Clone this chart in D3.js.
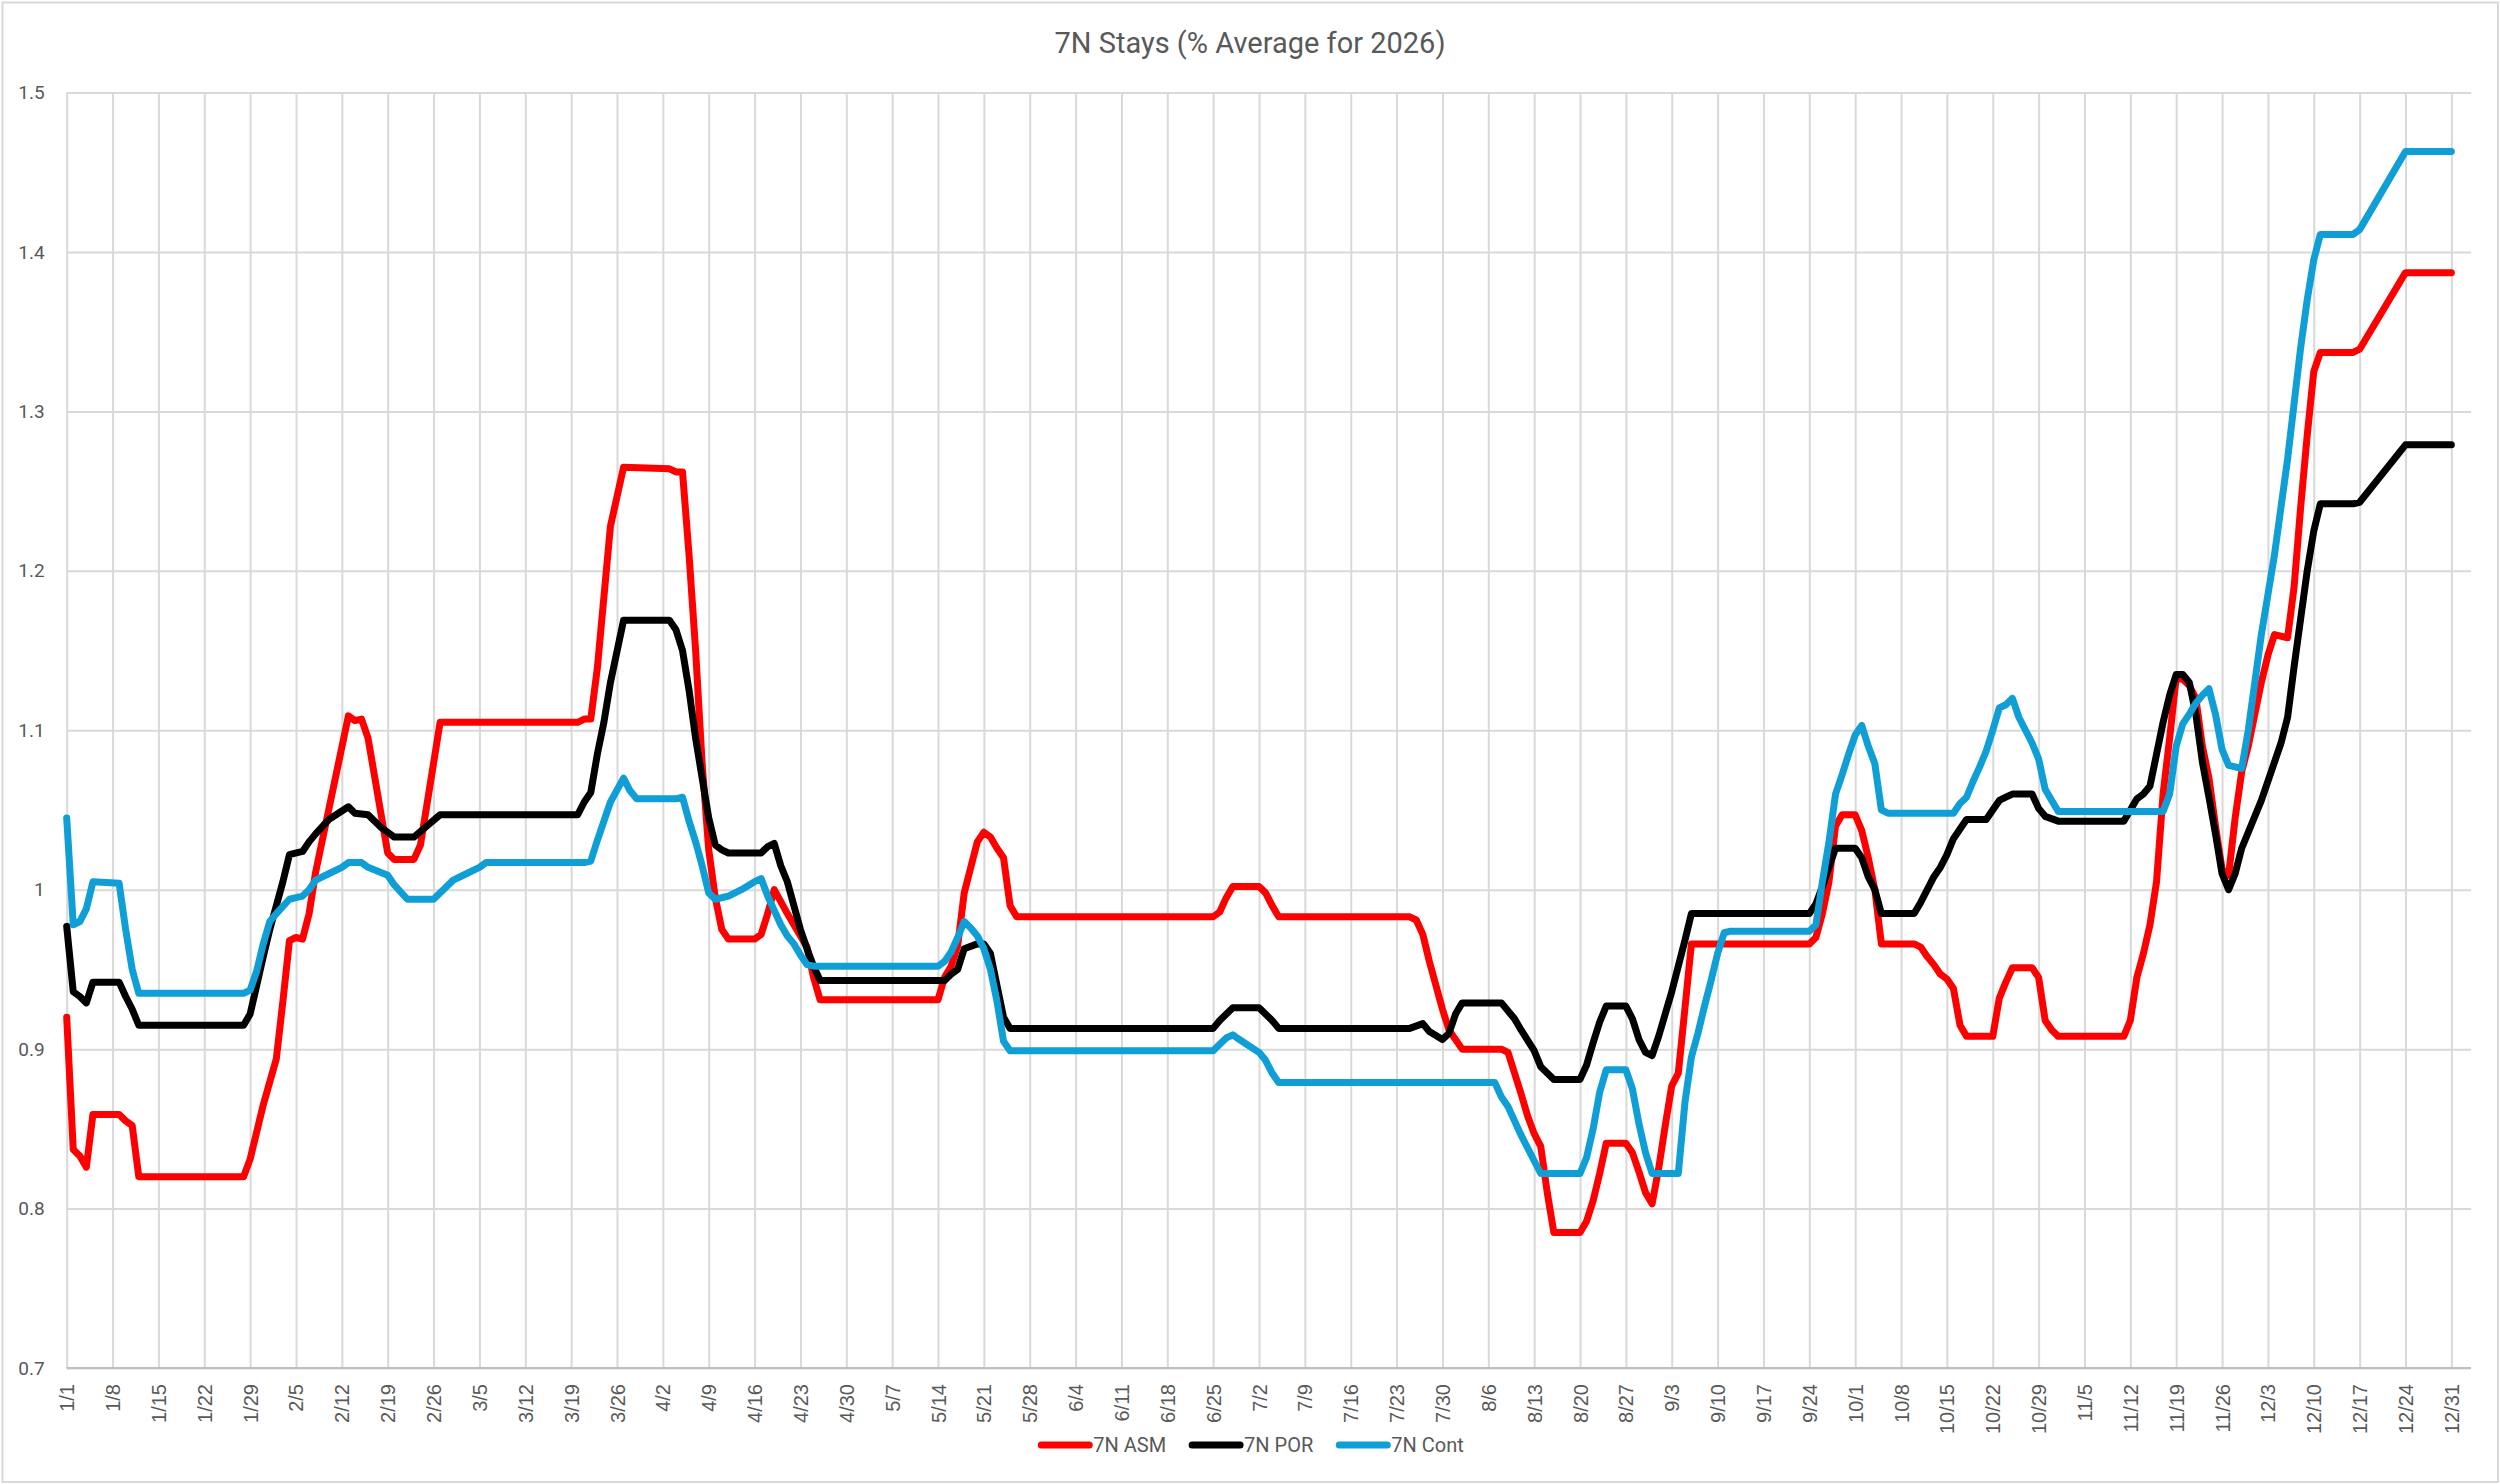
<!DOCTYPE html>
<html>
<head>
<meta charset="utf-8">
<script src="https://cdn.jsdelivr.net/npm/d3@7"></script>
<style>
  body { margin: 0; background: #fff; }
  svg { display: block; }
</style>
</head>
<body>
<svg id="chart"></svg>
<script>
let width = 2500
let height = 1484

let title = "7N Stays (% Average for 2026)"

// weekly category labels on the x axis
let xLabels = ["1/1","1/8","1/15","1/22","1/29","2/5","2/12","2/19","2/26","3/5","3/12","3/19","3/26",
  "4/2","4/9","4/16","4/23","4/30","5/7","5/14","5/21","5/28","6/4","6/11","6/18","6/25",
  "7/2","7/9","7/16","7/23","7/30","8/6","8/13","8/20","8/27","9/3","9/10","9/17","9/24",
  "10/1","10/8","10/15","10/22","10/29","11/5","11/12","11/19","11/26","12/3","12/10","12/17","12/24","12/31"]
let yTicks = [0.7, 0.8, 0.9, 1, 1.1, 1.2, 1.3, 1.4, 1.5]

let seriesNames = ["7N ASM", "7N POR", "7N Cont"]
let seriesColors = ["#ff0000", "#000000", "#0f9ed5"]

// day of year (0 = 1/1) and value
let asmDay = [0,1,2,3,4,8,9,10,11,27,28,30,32,33,34,35,36,37,38,43,44,45,46,49,50,53,54,57,78,79,80,81,83,85,92,93,94,
  95,96,97,98,99,100,101,105,106,107,108,110,111,113,114,115,133,134,135,136,137,139,140,141,142,143,144,145,
  175,176,177,178,182,183,184,185,205,206,207,208,209,210,211,213,219,220,221,222,223,224,225,226,227,231,
  232,233,234,235,238,239,240,241,242,243,244,245,246,247,248,266,267,268,269,270,271,273,274,275,276,277,
  282,283,284,285,286,287,288,289,290,294,295,296,297,300,301,302,303,304,314,315,316,317,318,319,320,321,
  322,323,324,325,326,327,328,329,330,331,332,333,334,335,336,337,339,340,341,342,343,344,349,350,357,364]
let asmVal = [0.920,0.837,0.833,0.826,0.859,0.859,0.855,0.852,0.820,0.820,0.831,0.865,0.894,0.930,0.968,0.970,0.969,0.985,1.011,1.109,1.106,1.107,1.095,1.023,1.019,1.019,1.028,1.105,1.105,1.107,1.107,1.139,1.228,1.265,1.264,1.262,1.262,
  1.210,1.150,1.079,1.025,0.995,0.975,0.969,0.969,0.972,0.985,1.000,0.985,0.978,0.964,0.945,0.931,0.931,0.945,0.952,0.965,0.998,1.030,1.036,1.033,1.026,1.020,0.990,0.983,
  0.983,0.986,0.995,1.002,1.002,0.998,0.990,0.983,0.983,0.981,0.972,0.955,0.940,0.925,0.912,0.900,0.900,0.898,0.885,0.872,0.858,0.847,0.839,0.810,0.785,0.785,
  0.792,0.805,0.822,0.841,0.841,0.835,0.823,0.810,0.803,0.825,0.852,0.877,0.885,0.925,0.966,0.966,0.970,0.985,1.005,1.040,1.047,1.047,1.037,1.020,1.000,0.966,
  0.966,0.964,0.958,0.953,0.947,0.944,0.938,0.915,0.908,0.908,0.932,0.942,0.951,0.951,0.945,0.918,0.912,0.908,0.908,0.918,0.945,0.960,0.978,1.005,1.060,1.095,
  1.133,1.132,1.128,1.120,1.090,1.070,1.040,1.013,1.009,1.045,1.074,1.090,1.110,1.130,1.147,1.160,1.158,1.190,1.240,1.285,1.325,1.337,1.337,1.339,1.387,1.387]

let porDay = [0,1,2,3,4,8,9,10,11,27,28,29,30,31,32,33,34,36,37,38,40,43,44,46,48,50,53,55,57,78,79,80,81,82,83,85,92,93,94,
  95,96,97,98,99,100,101,106,107,108,109,110,111,112,113,114,115,134,135,136,137,139,140,141,142,143,144,
  175,176,178,182,184,185,205,207,208,210,211,212,213,219,221,222,224,225,227,231,232,233,234,235,238,239,240,241,242,
  243,244,245,246,247,248,266,267,268,269,270,273,274,275,276,277,282,283,284,285,286,287,288,289,290,293,294,295,296,297,
  300,301,302,304,314,315,316,317,318,319,320,321,322,323,324,325,326,327,328,329,330,331,332,335,338,339,340,341,342,343,344,349,350,357,364]
let porVal = [0.977,0.936,0.933,0.929,0.942,0.942,0.933,0.925,0.915,0.915,0.922,0.940,0.958,0.975,0.990,1.005,1.022,1.024,1.030,1.035,1.044,1.052,1.048,1.047,1.039,1.033,1.033,1.040,1.047,1.047,1.055,1.061,1.085,1.105,1.130,1.169,1.169,1.163,1.150,
  1.125,1.095,1.070,1.045,1.028,1.025,1.023,1.023,1.027,1.029,1.015,1.005,0.990,0.975,0.963,0.952,0.943,0.943,0.947,0.950,0.963,0.966,0.966,0.960,0.940,0.920,0.913,
  0.913,0.918,0.926,0.926,0.918,0.913,0.913,0.916,0.911,0.906,0.910,0.922,0.929,0.929,0.919,0.912,0.899,0.889,0.881,0.881,0.890,0.904,0.917,0.927,0.927,0.919,0.906,0.898,0.896,
  0.908,0.922,0.936,0.952,0.968,0.985,0.985,0.991,1.002,1.014,1.026,1.026,1.020,1.008,1.000,0.985,0.985,0.992,1.000,1.008,1.014,1.022,1.032,1.038,1.044,1.044,1.050,1.056,1.058,1.060,
  1.060,1.051,1.046,1.043,1.043,1.050,1.057,1.060,1.065,1.085,1.105,1.122,1.135,1.135,1.130,1.110,1.080,1.058,1.035,1.010,1.000,1.010,1.026,1.056,1.092,1.108,1.140,1.170,1.200,1.225,1.242,1.242,1.243,1.279,1.279]

let contDay = [0,1,2,3,4,8,9,10,11,27,28,29,30,31,32,34,35,36,37,38,40,42,43,45,46,49,50,52,56,58,59,61,63,64,79,80,81,83,85,86,87,93,94,
  95,96,97,98,99,101,103,105,106,107,108,109,110,111,112,113,114,133,134,135,136,137,138,139,140,141,142,143,144,
  175,176,177,178,179,182,183,184,185,218,219,220,221,222,223,224,225,231,232,233,234,235,238,239,240,241,242,246,
  247,248,249,250,251,252,253,254,266,267,268,269,270,271,272,273,274,275,276,277,278,288,289,290,291,292,293,294,295,296,297,
  298,299,300,301,302,303,304,320,321,322,323,324,325,326,327,328,329,330,331,332,333,334,335,336,337,338,339,340,341,342,343,344,349,350,357,364]
let contVal = [1.045,0.978,0.980,0.988,1.005,1.004,0.975,0.950,0.935,0.935,0.937,0.949,0.966,0.980,0.985,0.994,0.995,0.996,1.000,1.006,1.010,1.014,1.017,1.017,1.014,1.009,1.003,0.994,0.994,1.002,1.006,1.010,1.014,1.017,1.017,1.018,1.031,1.055,1.070,1.062,1.057,1.057,1.058,
  1.043,1.030,1.015,0.998,0.994,0.996,1.000,1.005,1.007,0.996,0.987,0.978,0.971,0.966,0.959,0.953,0.952,0.952,0.955,0.961,0.970,0.980,0.976,0.971,0.963,0.950,0.930,0.905,0.899,
  0.899,0.903,0.907,0.909,0.906,0.898,0.893,0.885,0.879,0.879,0.870,0.864,0.855,0.846,0.838,0.830,0.822,0.822,0.832,0.850,0.873,0.887,0.887,0.875,0.853,0.835,0.822,0.822,
  0.866,0.895,0.910,0.927,0.943,0.960,0.973,0.974,0.974,0.978,1.005,1.030,1.060,1.072,1.085,1.097,1.103,1.090,1.079,1.050,1.048,1.048,1.054,1.058,1.068,1.077,1.087,1.100,1.114,1.116,1.120,
  1.108,1.100,1.092,1.082,1.063,1.056,1.049,1.049,1.060,1.090,1.104,1.110,1.117,1.122,1.126,1.110,1.088,1.078,1.077,1.076,1.100,1.130,1.160,1.185,1.210,1.240,1.270,1.305,1.340,1.370,1.395,1.411,1.411,1.414,1.463,1.463]

// last category slot on the axis (a few empty days after 12/31)
let xMaxDay = 367

let svg = d3.select("#chart")
svg.attr("width", width).attr("height", height)

let plotLeft = 66.7
let plotRight = 2471
let plotTop = 92.5
let plotBottom = 1368

let parseDay = d3.timeParse("%m/%d/%Y")
let dayOf = (label) => d3.timeDay.count(new Date(2026, 0, 1), parseDay(label + "/2026"))

let xScale = d3.scaleLinear().domain([0, xMaxDay]).range([plotLeft, plotRight])
let yScale = d3.scaleLinear().domain([0.7, 1.5]).range([plotBottom, plotTop])

// chart border
svg.append("rect")
   .attr("x", 2.5).attr("y", 2.5)
   .attr("width", width - 4.5).attr("height", height - 4.5)
   .attr("fill", "#fff")
   .attr("stroke", "#d9d9d9")
   .attr("stroke-width", 2)

svg.append("text")
   .attr("x", 1250).attr("y", 53)
   .attr("text-anchor", "middle")
   .attr("font-family", "Roboto")
   .attr("font-size", 29)
   .attr("fill", "#595959")
   .text(title)

let drawGrid = () => {
  let yAxis = d3.axisLeft(yScale)
                .tickValues(yTicks)
                .tickSize(-(plotRight - plotLeft))
                .tickPadding(22)
                .tickFormat(d3.format(""))
  let gy = svg.append("g")
     .attr("id", "y-axis")
     .attr("transform", "translate(" + plotLeft + ",0)")
     .call(yAxis)
  gy.select(".domain").remove()
  gy.selectAll("line").attr("stroke", "#d9d9d9").attr("stroke-width", 2)
  gy.selectAll("text")
    .attr("font-family", "Roboto")
    .attr("font-size", 19)
    .attr("fill", "#595959")

  let xAxis = d3.axisBottom(xScale)
                .tickValues(xLabels.map(dayOf))
                .tickSize(-(plotBottom - plotTop))
                .tickFormat((d, i) => xLabels[i])
  let gx = svg.append("g")
     .attr("id", "x-axis")
     .attr("transform", "translate(0," + plotBottom + ")")
     .call(xAxis)
  gx.select(".domain").remove()
  gx.selectAll("line").attr("stroke", "#d9d9d9").attr("stroke-width", 2)
  gx.selectAll("text")
    .attr("font-family", "Liberation Sans")
    .attr("font-size", 20)
    .attr("fill", "#595959")
    .attr("text-anchor", "end")
    .attr("dy", "0.35em")
    .attr("transform", "translate(0,4) rotate(-90)")
    .attr("x", -12).attr("y", 0)

  svg.append("line")
     .attr("x1", plotLeft).attr("x2", plotRight)
     .attr("y1", plotBottom).attr("y2", plotBottom)
     .attr("stroke", "#bfbfbf")
     .attr("stroke-width", 2)
}

let drawLines = () => {
  let series = [[asmDay, asmVal], [porDay, porVal], [contDay, contVal]]
  let line = d3.line()
               .x((d) => xScale(d[0]))
               .y((d) => yScale(d[1]))
  series.forEach((s, i) => {
    let pts = s[0].map((d, j) => [d, s[1][j]])
    svg.append("path")
       .datum(pts)
       .attr("d", line)
       .attr("fill", "none")
       .attr("stroke", seriesColors[i])
       .attr("stroke-width", 7)
       .attr("stroke-linejoin", "round")
       .attr("stroke-linecap", "round")
  })
}

let drawLegend = () => {
  let g = svg.append("g")
  let x = 0
  seriesNames.forEach((name, i) => {
    g.append("line")
     .attr("x1", x + 3).attr("x2", x + 51)
     .attr("y1", 0).attr("y2", 0)
     .attr("stroke", seriesColors[i])
     .attr("stroke-width", 7)
     .attr("stroke-linecap", "round")
    let t = g.append("text")
     .attr("x", x + 55).attr("y", 7)
     .attr("font-family", "Roboto")
     .attr("font-size", 20)
     .attr("fill", "#595959")
     .text(name)
    x += 55 + t.node().getComputedTextLength() + 23
  })
  let total = x - 23
  g.attr("transform", "translate(" + (1251 - total / 2) + ",1445)")
}

drawGrid()
drawLines()
drawLegend()
</script>
</body>
</html>
